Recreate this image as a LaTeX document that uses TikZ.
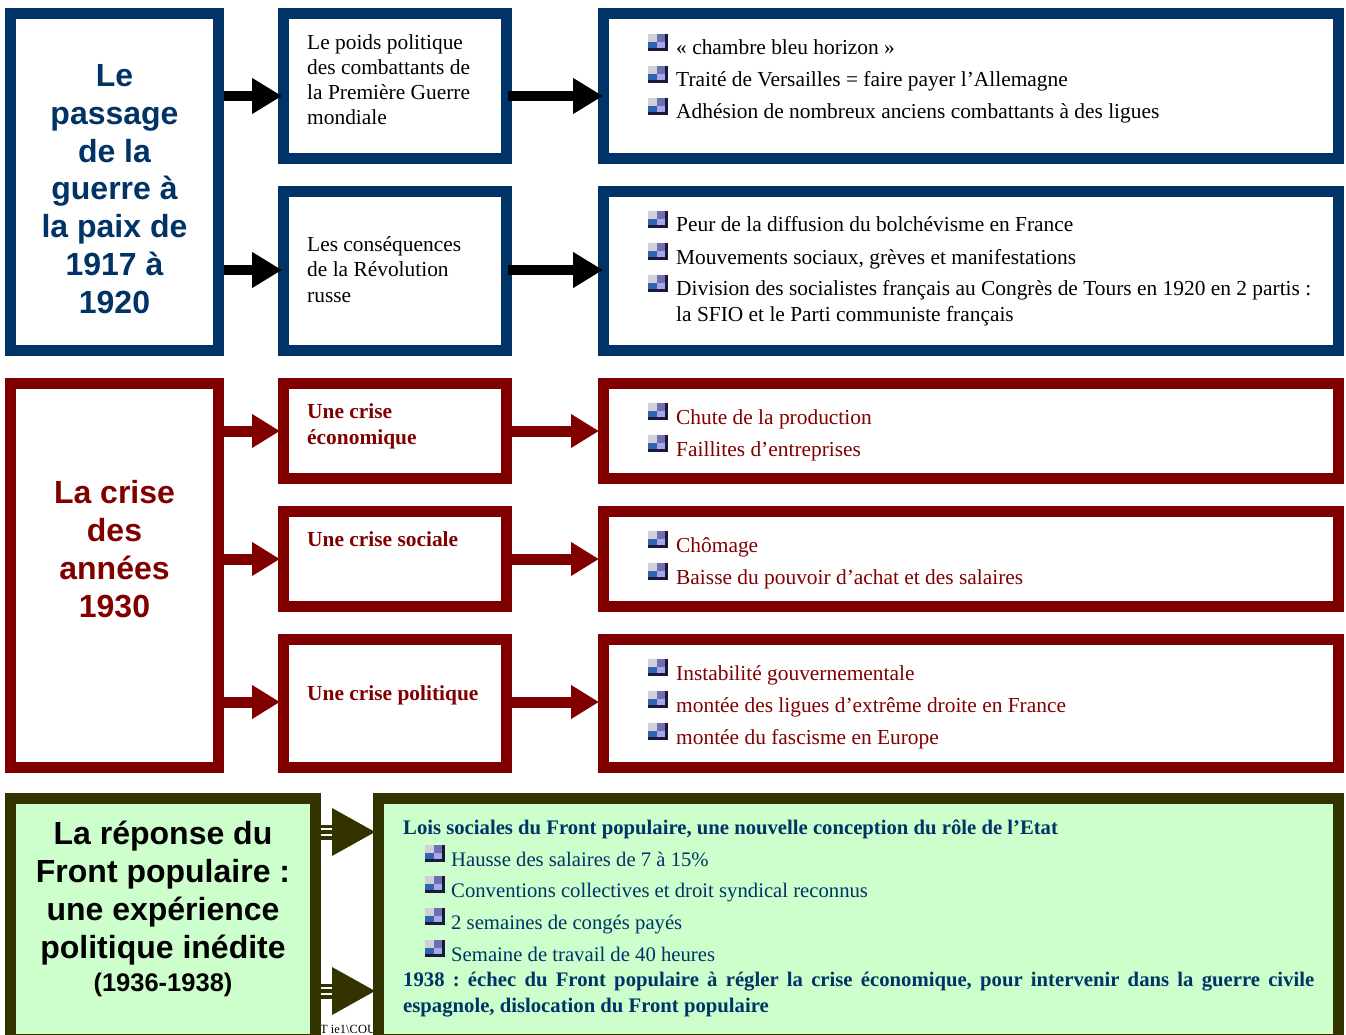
\documentclass[tikz,border=0pt]{standalone}
\usepackage{fontspec}
\setmainfont{Liberation Serif}
\setsansfont{Liberation Sans}
\usetikzlibrary{arrows.meta,calc}
\definecolor{bluec}{HTML}{003366}
\definecolor{redc}{HTML}{800000}
\definecolor{gfill}{HTML}{CCFFCC}
\definecolor{olivec}{HTML}{333300}
\definecolor{icgray}{HTML}{D0D0D8}
\definecolor{icpurp}{HTML}{6E6EB4}
\definecolor{icblue}{HTML}{2E64B0}
\definecolor{iclav}{HTML}{A8A8E8}
\definecolor{icdark}{HTML}{18183A}
\newcommand\fsz[2]{\fontsize{#1}{#2}\selectfont}
\frenchspacing
\begin{document}
\begin{tikzpicture}[x=1pt,y=-1pt,
  box/.style={draw, line width=11pt, inner sep=0pt, outer sep=5.5pt},
  bbox/.style={box, draw=bluec, fill=white},
  rbox/.style={box, draw=redc, fill=white},
  gbox/.style={box, draw=olivec, fill=gfill},
  txt/.style={anchor=base west, inner sep=0pt, align=left, font=\fsz{21.4}{25.3}},
  btxt/.style={txt, font=\bfseries\fsz{21.4}{25.3}},
  gtxt/.style={txt, font=\fsz{20.7}{25.3}},
  big/.style={anchor=base, inner sep=0pt, align=center, font=\sffamily\bfseries\fsz{32}{37.7}},
  barrow/.style={line width=10pt, -{Triangle[length=30pt,width=34pt]}},
  rarrow/.style={line width=11pt, draw=redc, -{Triangle[length=28pt,width=32pt]}},
  bul/.pic={
    \fill[icdark] (0,-21) rectangle (20,-4);
    \fill[icgray] (0,-21) rectangle (9,-13);
    \fill[icpurp] (9,-21) rectangle (17,-13);
    \fill[icblue] (0,-13) rectangle (9,-7);
    \fill[iclav] (9,-13) rectangle (17,-7);
  }]
\useasboundingbox (0,0) rectangle (1346,1035);
\begin{scope}
\clip (0,0) rectangle (1346,1035);

% ---------- boxes ----------
\node[bbox, minimum width=208pt, minimum height=337pt] (bl) at (114.5,182) {};
\node[bbox, minimum width=223pt, minimum height=145pt] (bm1) at (395,86) {};
\node[bbox, minimum width=735pt, minimum height=145pt] (br1) at (971,86) {};
\node[bbox, minimum width=223pt, minimum height=159pt] (bm2) at (395,271) {};
\node[bbox, minimum width=735pt, minimum height=159pt] (br2) at (971,271) {};

\node[rbox, minimum width=208pt, minimum height=384pt] (rl) at (114.5,575.5) {};
\node[rbox, minimum width=223pt, minimum height=95pt] (rm1) at (395,431) {};
\node[rbox, minimum width=735pt, minimum height=95pt] (rr1) at (971,431) {};
\node[rbox, minimum width=223pt, minimum height=95pt] (rm2) at (395,559) {};
\node[rbox, minimum width=735pt, minimum height=95pt] (rr2) at (971,559) {};
\node[rbox, minimum width=223pt, minimum height=128pt] (rm3) at (395,703.5) {};
\node[rbox, minimum width=735pt, minimum height=128pt] (rr3) at (971,703.5) {};

\node[anchor=base west, inner sep=0pt, font=\fsz{12.5}{14}] (foot) at (320,1033) {T ie1\textbackslash COU};
\node[gbox, minimum width=305pt, minimum height=241pt] (gl) at (163,919) {};
\node[gbox, minimum width=960pt, minimum height=241pt] (gr) at (858.5,919) {};

% ---------- arrow levels ----------
\coordinate (ya) at (0,96);
\coordinate (yb) at (0,270);
\coordinate (yc) at (0,431);
\coordinate (yd) at (0,559);
\coordinate (ye) at (0,702);
\coordinate (yf) at (0,832);
\coordinate (yg) at (0,991);

% blue arrows
\draw[barrow, shorten >=-4pt] (bl.east |- ya) -- (bm1.west |- ya);
\draw[barrow, shorten >=-5pt, shorten <=-4pt] (bm1.east |- ya) -- (br1.west |- ya);
\draw[barrow, shorten >=-4pt] (bl.east |- yb) -- (bm2.west |- yb);
\draw[barrow, shorten >=-5pt, shorten <=-4pt] (bm2.east |- yb) -- (br2.west |- yb);

% red arrows
\draw[rarrow, shorten >=-2pt] (rl.east |- yc) -- (rm1.west |- yc);
\draw[rarrow, shorten >=-1pt] (rm1.east |- yc) -- (rr1.west |- yc);
\draw[rarrow, shorten >=-2pt] (rl.east |- yd) -- (rm2.west |- yd);
\draw[rarrow, shorten >=-1pt] (rm2.east |- yd) -- (rr2.west |- yd);
\draw[rarrow, shorten >=-2pt] (rl.east |- ye) -- (rm3.west |- ye);
\draw[rarrow, shorten >=-1pt] (rm3.east |- ye) -- (rr3.west |- ye);

% green striped arrows
\foreach \c in {yf,yg}{
  \fill[olivec] ($(gl.east |- \c)+(0,-7.5)$) rectangle ($(gl.east |- \c)+(12,7.5)$);
  \fill[white] ($(gl.east |- \c)+(0,-4)$) rectangle ($(gl.east |- \c)+(12,-2)$);
  \fill[white] ($(gl.east |- \c)+(0,2)$) rectangle ($(gl.east |- \c)+(12,4)$);
  \fill[olivec] ($(gl.east |- \c)+(11,-24)$) -- ($(gr.west |- \c)+(2,0)$) -- ($(gl.east |- \c)+(11,24)$) -- cycle;
}

% ---------- texts: blue section ----------
\node[big, text=bluec] (tbl) at (114.5,313) {Le\\passage\\de la\\guerre à\\la paix de\\1917 à\\1920};
\node[txt] (tbm1) at (307,125) {Le poids politique\\des combattants de\\la Première Guerre\\mondiale};
\node[txt] (tbm2) at (307,302) {Les conséquences\\de la Révolution\\russe};

\pic at (648,55) {bul}; \node[txt] (t11) at (676,55) {« chambre bleu horizon »};
\pic at (648,87) {bul}; \node[txt] (t12) at (676,87) {Traité de Versailles = faire payer l’Allemagne};
\pic at (648,119) {bul}; \node[txt] (t13) at (676,119) {Adhésion de nombreux anciens combattants à des ligues};

\pic at (648,232) {bul}; \node[txt] (t21) at (676,232) {Peur de la diffusion du bolchévisme en France};
\pic at (648,264) {bul}; \node[txt] (t22) at (676,264) {Mouvements sociaux, grèves et manifestations};
\pic at (648,296) {bul}; \node[txt] (t23) at (676,321) {Division des socialistes français au Congrès de Tours en 1920 en 2 partis :\\la SFIO et le Parti communiste français};

% ---------- texts: red section ----------
\node[big, text=redc] (trl) at (114.5,617) {La crise\\des\\années\\1930};
\node[btxt, text=redc] (trm1) at (307,444) {Une crise\\économique};
\node[btxt, text=redc] (trm2) at (307,546) {Une crise sociale};
\node[btxt, text=redc] (trm3) at (307,700) {Une crise politique};

\pic at (648,424) {bul}; \node[txt, text=redc] (r11) at (676,424) {Chute de la production};
\pic at (648,456) {bul}; \node[txt, text=redc] (r12) at (676,456) {Faillites d’entreprises};
\pic at (648,552) {bul}; \node[txt, text=redc] (r21) at (676,552) {Chômage};
\pic at (648,584) {bul}; \node[txt, text=redc] (r22) at (676,584) {Baisse du pouvoir d’achat et des salaires};
\pic at (648,680) {bul}; \node[txt, text=redc] (r31) at (676,680) {Instabilité gouvernementale};
\pic at (648,712) {bul}; \node[txt, text=redc] (r32) at (676,712) {montée des ligues d’extrême droite en France};
\pic at (648,744) {bul}; \node[txt, text=redc] (r33) at (676,744) {montée du fascisme en Europe};

% ---------- texts: green section ----------
\node[big, text=black] (tgl) at (163,958) {La réponse du\\Front populaire :\\une expérience\\politique inédite};
\node[anchor=base, inner sep=0pt, font=\sffamily\bfseries\fsz{25.5}{30}] (tgl2) at (163,991) {(1936-1938)};

\node[gtxt, text=bluec, font=\bfseries\fsz{20.7}{25.3}] (g0) at (403,834) {Lois sociales du Front populaire, une nouvelle conception du rôle de l’Etat};
\pic at (425,866) {bul}; \node[gtxt, text=bluec] (g1) at (451,866) {Hausse des salaires de 7 à 15\%};
\pic at (425,897) {bul}; \node[gtxt, text=bluec] (g2) at (451,897) {Conventions collectives et droit syndical reconnus};
\pic at (425,929) {bul}; \node[gtxt, text=bluec] (g3) at (451,929) {2 semaines de congés payés};
\pic at (425,961) {bul}; \node[gtxt, text=bluec] (g4) at (451,961) {Semaine de travail de 40 heures};
\node[gtxt, text=bluec, font=\bfseries\fsz{20.7}{26}, text width=911pt, align=justify] (g5) at (403,986) {1938 : échec du Front populaire à régler la crise économique, pour intervenir dans la guerre civile\linebreak espagnole, dislocation du Front populaire};
\end{scope}
\end{tikzpicture}
\end{document}
